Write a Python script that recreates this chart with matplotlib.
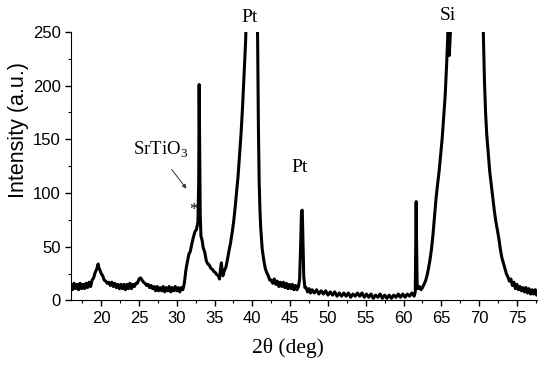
import matplotlib
matplotlib.use("Agg")
import matplotlib.pyplot as plt

# diffraction pattern, values (segments joined below)
tt_a = [16.0, 16.2, 16.4, 16.6, 16.8, 17.0, 17.2, 17.4, 17.6, 17.8, 18.0, 18.2, 18.4, 18.6, 18.8,
        19.0, 19.2, 19.4, 19.6, 19.7, 19.8, 20.0, 20.2, 20.4, 20.6, 20.8, 21.0, 21.2, 21.4, 21.6,
        21.8, 22.0, 22.2, 22.4, 22.6, 22.8, 23.0, 23.2, 23.4, 23.6, 23.8, 24.0, 24.2, 24.4, 24.6,
        24.8, 25.0, 25.2, 25.4, 25.6, 25.8, 26.0, 26.2, 26.4, 26.6, 26.8, 27.0, 27.2, 27.4, 27.6,
        27.8, 28.0, 28.2, 28.4, 28.6, 28.8, 29.0, 29.2, 29.4, 29.6, 29.8, 30.0, 30.2, 30.4, 30.6, 30.8]
int_a = [14, 10, 16, 11, 15, 10, 16, 11, 15, 11, 16, 12, 17, 13, 19,
         21, 26, 29, 34, 30, 29, 25, 23, 19, 18, 16, 17, 14, 17, 13,
         16, 12, 15, 11, 15, 11, 15, 10, 15, 11, 16, 11, 15, 13, 16,
         16, 20, 21, 19, 17, 16, 14, 15, 12, 14, 11, 13, 9, 13, 9,
         12, 9, 13, 8, 12, 9, 13, 8, 12, 9, 13, 9, 12, 8, 12, 10]

tt_b = [31.0, 31.2, 31.4, 31.6, 31.8, 32.0, 32.2, 32.4, 32.6, 32.8, 32.9, 32.96, 33.02, 33.1, 33.2,
        33.35, 33.5, 33.7, 33.9, 34.1, 34.3, 34.5, 34.7, 34.9, 35.1, 35.3, 35.5, 35.65, 35.8, 35.9,
        36.0, 36.1, 36.3, 36.5, 36.7, 36.9, 37.1, 37.3, 37.5, 37.7, 37.9, 38.1, 38.3, 38.5, 38.7,
        38.9, 39.1, 39.25, 39.5, 39.95, 40.45, 40.6, 40.7, 40.8, 40.9, 41.0, 41.1, 41.3, 41.5, 41.7, 41.9]
int_b = [16, 28, 36, 43, 46, 53, 59, 64, 66, 73, 110, 201, 150, 80, 60,
         56, 49, 45, 37, 34, 33, 30, 29, 27, 26, 24, 23, 20, 30, 35,
         27, 23, 28, 31, 38, 46, 53, 62, 72, 85, 100, 115, 135, 155, 180,
         210, 240, 275, 600, 2000, 600, 300, 240, 160, 110, 85, 68, 48, 38, 30, 26]

tt_c = [42.1, 42.3, 42.5, 42.7, 42.9, 43.1, 43.3, 43.5, 43.7, 43.9, 44.1, 44.3, 44.5, 44.7, 44.9,
        45.1, 45.3, 45.5, 45.7, 45.9, 46.1, 46.25, 46.4, 46.5, 46.6, 46.7, 46.8, 46.95]
int_c = [23, 19, 19, 16, 20, 15, 18, 13, 17, 13, 17, 12, 16, 11, 15,
         11, 15, 10, 14, 10, 13, 20, 55, 83, 84, 55, 22, 12]

tt_d = [47.1, 47.3, 47.5, 47.7, 47.9, 48.2, 48.5, 48.8, 49.1, 49.4, 49.7, 50.0, 50.3, 50.6, 50.9,
        51.2, 51.5, 51.8, 52.1, 52.4, 52.7, 53.0, 53.3, 53.6, 53.9, 54.2, 54.5, 54.8, 55.1, 55.4,
        55.7, 56.0, 56.3, 56.6, 56.9, 57.2, 57.5, 57.8, 58.1, 58.4, 58.7, 59.0, 59.3, 59.6, 59.9,
        60.2, 60.5, 60.8, 61.1, 61.4, 61.55, 61.62, 61.67, 61.72, 61.8]
int_d = [12, 8, 11, 7, 10, 7, 10, 6, 9, 6, 9, 5, 8, 5, 8,
         4, 7, 4, 7, 4, 7, 3, 6, 4, 7, 4, 7, 3, 6, 3,
         6, 2, 5, 3, 6, 2, 5, 2, 5, 2, 5, 3, 6, 3, 6,
         3, 6, 4, 7, 4, 8, 60, 92, 55, 14]

tt_e = [61.9, 62.1, 62.3, 62.5, 62.7, 62.9, 63.1, 63.3, 63.5, 63.7, 63.9, 64.1, 64.3, 64.5, 64.7,
        64.9, 65.1, 65.3, 65.5, 65.7, 65.9, 66.05, 66.2, 66.35, 68.4, 70.45, 70.55, 70.7, 70.85, 71.0,
        71.2, 71.4, 71.6, 71.8, 72.0, 72.2, 72.4, 72.6, 72.8, 73.0, 73.2, 73.4, 73.6, 73.8, 74.0,
        74.2, 74.4, 74.6, 74.8, 75.0, 75.2, 75.4, 75.6, 75.8, 76.0, 76.2, 76.4, 76.6, 76.8, 77.0,
        77.2, 77.4, 77.6, 77.7]
int_e = [11, 13, 10, 12, 15, 18, 23, 30, 38, 48, 62, 78, 95, 108, 120,
         135, 150, 170, 190, 220, 255, 228, 250, 300, 5000, 300, 250, 205, 175, 155,
         138, 120, 108, 96, 84, 74, 66, 58, 48, 40, 35, 30, 25, 22, 18,
         20, 14, 17, 11, 15, 10, 13, 9, 12, 8, 12, 7, 11, 6, 10,
         6, 10, 5, 9]

two_theta = tt_a + tt_b + tt_c + tt_d + tt_e
intensity = int_a + int_b + int_c + int_d + int_e

plt.rcParams['font.family'] = 'Liberation Sans'
plt.rcParams['mathtext.fontset'] = 'custom'
plt.rcParams['mathtext.rm'] = 'Liberation Serif'

fig = plt.figure(figsize=(5.5, 3.66), dpi=100)
ax = fig.add_axes([0.129, 0.179, 0.848, 0.734])
ax.plot(two_theta, intensity, color='black', lw=2.2)

ax.set_xlim(16, 77.7)
ax.set_ylim(0, 250)
ax.set_xticks(range(20, 80, 5))
ax.set_xticks([x / 2 for x in range(35, 156, 5)], minor=True)
ax.set_yticks(range(0, 251, 50))
ax.set_yticks(range(0, 251, 25), minor=True)
ax.spines['top'].set_visible(False)
ax.spines['right'].set_visible(False)
ax.tick_params(which='major', direction='out', length=4, width=1, labelsize=12)
ax.tick_params(which='minor', direction='out', length=2.5, width=0.8)

fig.text(0.033, 0.645, 'Intensity (a.u.)', rotation=90, ha='center', va='center', fontsize=15.5)
fig.text(0.524, 0.049, '2θ (deg)', ha='center', va='center', fontsize=15.5, family='Liberation Serif')

serif = dict(family='Liberation Serif', ha='center', va='center', clip_on=False)
ax.text(39.6, 263, 'Pt', fontsize=14, **serif)
ax.text(46.3, 124, 'Pt', fontsize=14, **serif)
ax.text(65.9, 265, 'Si', fontsize=14, **serif)
ax.text(27.9, 140, r'SrTiO$_3$', fontsize=13.5, **serif)
ax.text(32.2, 84, '*', fontsize=12, **serif)
ax.annotate('', xy=(31.5, 102), xytext=(29.1, 124),
            arrowprops=dict(arrowstyle='-|>', color='#333333', lw=0.7,
                            mutation_scale=6))

fig.savefig('out.png', dpi=100)
